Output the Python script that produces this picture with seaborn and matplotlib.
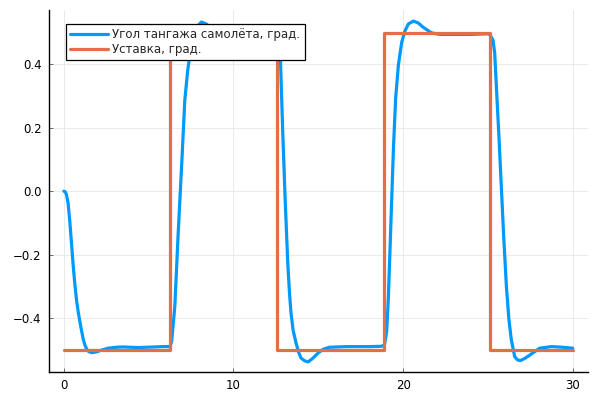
import numpy as np
import pandas as pd
import matplotlib
matplotlib.use("Agg")
import matplotlib.pyplot as plt
import seaborn as sns

# ---- data ----
t_pitch = [0.0, 0.08, 0.15, 0.25, 0.35, 0.45, 0.55, 0.65, 0.75, 0.85, 0.94,
           1.05, 1.15, 1.24, 1.35, 1.45, 1.63, 1.9, 2.22, 2.6,
           3.1, 3.5, 3.89, 4.4, 4.87, 5.4, 5.83, 6.25, 6.35, 6.54, 6.74, 6.94,
           7.13, 7.3, 7.5, 7.7, 7.9, 8.11, 8.4, 8.7, 9.1, 9.6, 10.5, 11.5, 12.57,
           12.64, 12.77, 12.9, 13.04, 13.2, 13.3, 13.39, 13.52, 13.69, 13.84,
           13.98, 14.2, 14.4, 14.65, 14.99, 15.3, 15.67, 16.66, 17.3, 18.03,
           18.72, 18.9, 19.03, 19.13, 19.23, 19.33, 19.43, 19.56, 19.72, 19.92,
           20.11, 20.31, 20.61, 20.9, 21.17, 21.67, 22.16, 23.0, 23.92, 25.0,
           25.1, 25.3, 25.4, 25.5, 25.65, 25.79, 25.93, 26.09, 26.24, 26.38,
           26.58, 26.75, 26.91, 27.15, 27.46, 28.05, 28.74, 29.42, 30.0]
pitch = [0.0, -0.002, -0.01, -0.038, -0.095, -0.164, -0.235, -0.295, -0.345,
         -0.382, -0.410, -0.442, -0.468, -0.485, -0.498, -0.505, -0.509,
         -0.507, -0.501, -0.495, -0.492, -0.491, -0.492, -0.493, -0.492, -0.491,
         -0.490, -0.490, -0.475, -0.364, -0.132, 0.077, 0.287, 0.38, 0.455,
         0.497, 0.522, 0.533, 0.527, 0.512, 0.499, 0.494, 0.493, 0.494, 0.495,
         0.478, 0.413, 0.192, -0.018, -0.227, -0.32, -0.384, -0.44, -0.479,
         -0.508, -0.526, -0.535, -0.538, -0.528, -0.510, -0.498, -0.492, -0.490,
         -0.490, -0.490, -0.489, -0.485, -0.443, -0.337, -0.180, -0.022, 0.135,
         0.293, 0.397, 0.470, 0.505, 0.527, 0.536, 0.530, 0.517, 0.499, 0.494,
         0.494, 0.494, 0.496, 0.495, 0.476, 0.435, 0.328, 0.171, 0.014, -0.144,
         -0.301, -0.406, -0.469, -0.522, -0.532, -0.534, -0.528, -0.517, -0.495,
         -0.490, -0.492, -0.495]

# setpoint switch times and levels (step function)
t_set = [0.0, 6.28, 12.57, 18.85, 25.13, 30.0]
setpoint = [-0.5, 0.5, -0.5, 0.5, -0.5, -0.5]

label_pitch = "Угол тангажа самолёта, град."
label_set = "Уставка, град."

blue = "#009AFA"
orange = "#E36F47"
fontsize = 8.5

sns.set_style("white")
plt.rcParams["font.family"] = ["DejaVu Sans"]
plt.rcParams["font.size"] = fontsize

fig = plt.figure(figsize=(6, 4), dpi=100)
ax = fig.add_axes([0.081, 0.07, 0.899, 0.905])

sns.lineplot(x=t_pitch, y=pitch, ax=ax, color=blue, lw=2.3,
             estimator=None, sort=False, label=label_pitch)
sns.lineplot(x=t_set, y=setpoint, ax=ax, color=orange, lw=2.3,
             estimator=None, sort=False, drawstyle="steps-post", label=label_set)

ax.set_xlim(-0.9, 30.9)
ax.set_ylim(-0.57, 0.571)
ax.set_xticks([0, 10, 20, 30])
ax.set_yticks([-0.4, -0.2, 0.0, 0.2, 0.4])
ax.grid(True, color="#e6e6e6", lw=0.6)
ax.set_axisbelow(True)
for s in ["top", "right"]:
    ax.spines[s].set_visible(False)
for s in ["left", "bottom"]:
    ax.spines[s].set_color("black")
    ax.spines[s].set_linewidth(1.0)
ax.tick_params(axis="both", direction="in", length=3, width=0.6,
               color="#555555", labelsize=fontsize, labelcolor="black",
               left=True, bottom=True, pad=5)

leg = ax.legend(loc="upper left", bbox_to_anchor=(0.032, 0.961),
                borderaxespad=0, fontsize=fontsize, frameon=True, fancybox=False,
                framealpha=1, edgecolor="black", handlelength=3.2,
                handletextpad=0.4, labelspacing=0.15, borderpad=0.35)
leg.get_frame().set_linewidth(0.9)

fig.savefig("out.png", dpi=100)
